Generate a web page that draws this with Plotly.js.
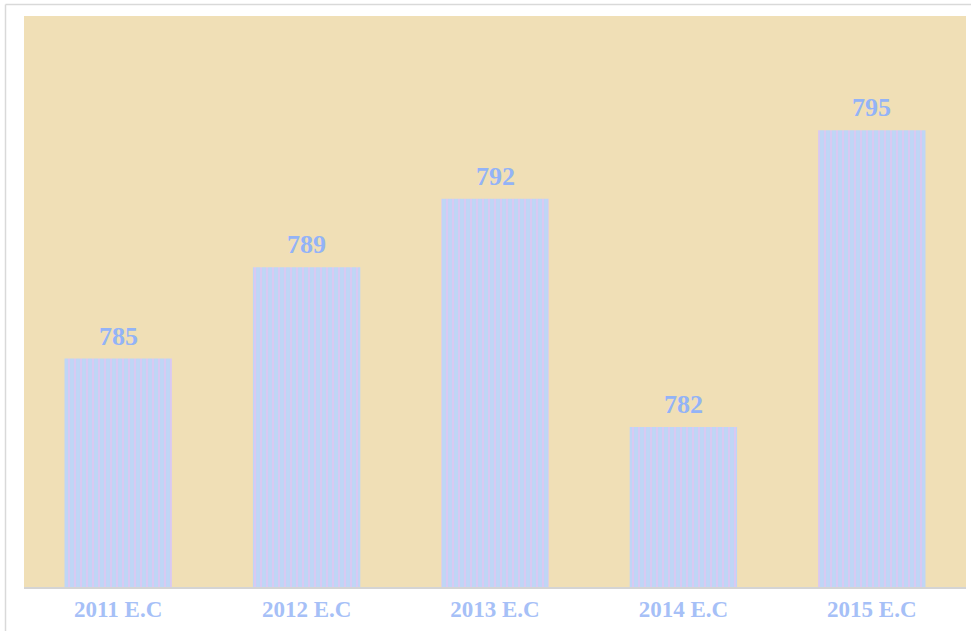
<!DOCTYPE html>
<html>
<head>
<meta charset="utf-8">
<script src="https://cdn.plot.ly/plotly-3.0.1.min.js"></script>
<style>
  html, body { margin: 0; padding: 0; background: #ffffff; }
  #chart { width: 971px; height: 631px; }
</style>
</head>
<body>
<div id="chart"></div>
<script>
// Yearly totals (Ethiopian calendar)
const years = ['2011 E.C', '2012 E.C', '2013 E.C', '2014 E.C', '2015 E.C'];
const totals = [785, 789, 792, 782, 795];

const labelBlue = '#93b3f7';
const tickBlue = '#a6c0f7';
const serif = '"Liberation Serif", "Times New Roman", serif';

const bars = {
  type: 'bar',
  x: years,
  y: totals,
  marker: {
    color: '#c2d5f6',
    line: { width: 0 },
    pattern: {
      shape: '|',
      fgcolor: '#d9c9f2',
      bgcolor: '#bfd6f6',
      size: 6,
      solidity: 0.35,
      fillmode: 'replace'
    }
  },
  hoverinfo: 'skip'
};

// value labels sit a little above each bar top
const valueLabels = years.map((yr, i) => ({
  x: yr,
  y: totals[i],
  xref: 'x',
  yref: 'y',
  text: String(totals[i]),
  showarrow: false,
  yanchor: 'bottom',
  yshift: 6,
  font: { family: serif, size: 26, color: labelBlue, weight: 'bold' }
}));

const frameX = (5.5 - 24) / 942;
const frameTop = 1 + (16 - 4.5) / 571;

const layout = {
  width: 971,
  height: 631,
  margin: { l: 24, r: 5, t: 16, b: 44 },
  paper_bgcolor: '#ffffff',
  plot_bgcolor: '#f0dfb6',
  bargap: 0.43,
  showlegend: false,
  xaxis: {
    type: 'category',
    showgrid: false,
    zeroline: false,
    showline: true,
    linecolor: '#d4d4d4',
    linewidth: 2,
    ticks: '',
    ticklabelstandoff: 0,
    tickfont: { family: serif, size: 23, color: tickBlue, weight: 'bold' }
  },
  yaxis: {
    range: [775, 800],
    showgrid: false,
    zeroline: false,
    showline: false,
    showticklabels: false,
    ticks: ''
  },
  annotations: valueLabels,
  shapes: [
    // thin frame along the top and left of the page
    { type: 'line', xref: 'paper', yref: 'paper',
      x0: frameX, x1: 1 + 5 / 942, y0: frameTop, y1: frameTop,
      line: { color: '#d9d9d9', width: 1.5 } },
    { type: 'line', xref: 'paper', yref: 'paper',
      x0: frameX, x1: frameX, y0: -44 / 571, y1: frameTop,
      line: { color: '#d9d9d9', width: 1.5 } }
  ]
};

Plotly.newPlot('chart', [bars], layout, { displayModeBar: false, staticPlot: true });
</script>
</body>
</html>
